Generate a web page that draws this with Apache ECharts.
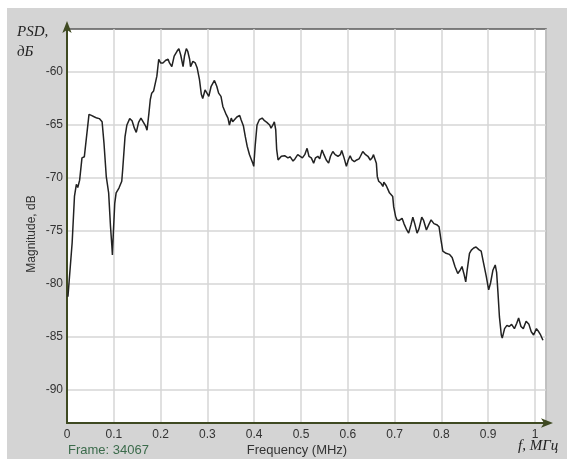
<!DOCTYPE html>
<html>
<head>
<meta charset="utf-8">
<script src="https://cdn.jsdelivr.net/npm/echarts@6/dist/echarts.min.js"></script>
<style>
  html, body { margin: 0; padding: 0; background: #fff; }
  #panel { position: absolute; left: 7px; top: 8px; width: 560px; height: 451px; background: #d4d4d4; }
  #chart { position: absolute; left: 0; top: 0; width: 567px; height: 459px; }
</style>
</head>
<body>
<div id="panel"></div>
<div id="chart"></div>
<script>
// spectrum trace (MHz, dB)
const freq = [
  0.002, 0.011, 0.016, 0.020, 0.023, 0.027, 0.032, 0.037, 0.041, 0.047,
  0.052, 0.059, 0.064, 0.069, 0.075, 0.079, 0.084, 0.089, 0.093, 0.096,
  0.097, 0.099, 0.102, 0.105, 0.111, 0.117, 0.119, 0.124, 0.128, 0.134,
  0.139, 0.144, 0.148, 0.153, 0.158, 0.164, 0.168, 0.171, 0.175, 0.178,
  0.181, 0.185, 0.189, 0.192, 0.196, 0.200, 0.205, 0.211, 0.216, 0.219,
  0.224, 0.229, 0.235, 0.239, 0.243, 0.248, 0.251, 0.255, 0.258, 0.262,
  0.264, 0.269, 0.274, 0.278, 0.283, 0.287, 0.290, 0.295, 0.299, 0.303,
  0.308, 0.315, 0.320, 0.324, 0.329, 0.333, 0.339, 0.344, 0.347, 0.351,
  0.354, 0.357, 0.363, 0.369, 0.372, 0.377, 0.381, 0.385, 0.390, 0.394,
  0.397, 0.399, 0.402, 0.406, 0.411, 0.417, 0.422, 0.427, 0.433, 0.436,
  0.440, 0.443, 0.446, 0.448, 0.451, 0.458, 0.465, 0.472, 0.477, 0.483,
  0.487, 0.493, 0.497, 0.503, 0.508, 0.513, 0.517, 0.522, 0.527, 0.531,
  0.536, 0.540, 0.545, 0.549, 0.554, 0.559, 0.563, 0.568, 0.573, 0.579,
  0.584, 0.587, 0.592, 0.597, 0.601, 0.605, 0.609, 0.614, 0.619, 0.624,
  0.627, 0.632, 0.638, 0.643, 0.648, 0.652, 0.655, 0.657, 0.661, 0.663,
  0.666, 0.671, 0.675, 0.677, 0.682, 0.686, 0.689, 0.693, 0.696, 0.698,
  0.702, 0.705, 0.710, 0.716, 0.720, 0.726, 0.730, 0.735, 0.739, 0.743,
  0.748, 0.752, 0.758, 0.762, 0.768, 0.773, 0.778, 0.784, 0.790, 0.795,
  0.799, 0.803, 0.810, 0.817, 0.823, 0.829, 0.835, 0.840, 0.844, 0.848,
  0.852, 0.855, 0.860, 0.864, 0.869, 0.874, 0.880, 0.885, 0.890, 0.896,
  0.901, 0.905, 0.910, 0.915, 0.918, 0.921, 0.924, 0.928, 0.930, 0.935,
  0.940, 0.945, 0.950, 0.956, 0.961, 0.965, 0.970, 0.975, 0.981, 0.987,
  0.992, 0.997, 1.003, 1.008, 1.012, 1.017
];
const psd = [
  -81.2, -76.1, -71.7, -70.6, -70.9, -70.2, -68.1, -68.0, -66.4, -64.0,
  -64.1, -64.25, -64.35, -64.4, -64.7, -66.7, -69.9, -71.4, -74.6, -76.5,
  -77.25, -75.2, -72.4, -71.4, -70.95, -70.3, -69.2, -66.1, -65.0, -64.4,
  -64.6, -65.3, -65.7, -64.75, -64.35, -64.8, -65.1, -65.5, -63.9, -62.6,
  -62.0, -61.8, -61.85, -60.4, -58.8, -59.15, -59.15, -58.9, -58.8, -59.15,
  -59.5, -58.5, -58.05, -57.8, -58.4, -59.5, -58.5, -57.8, -58.05, -58.8,
  -59.5, -59.0, -59.15, -59.6, -60.7, -62.1, -62.5, -61.7, -61.65, -62.3,
  -61.35, -60.8, -61.35, -62.0, -62.3, -63.25, -63.9, -64.35, -65.0, -64.35,
  -64.7, -64.6, -64.25, -64.1, -64.5, -65.1, -66.1, -67.0, -67.8, -67.95,
  -68.6, -68.9, -67.0, -65.0, -64.5, -64.35, -64.6, -64.75, -65.0, -65.3,
  -65.0, -64.7, -65.45, -67.3, -68.3, -67.95, -67.9, -68.1, -68.0, -68.4,
  -68.2, -67.8, -67.65, -68.1, -67.8, -67.2, -67.95, -68.1, -68.6, -68.1,
  -67.95, -68.2, -67.35, -67.8, -68.3, -68.6, -67.95, -67.5, -67.8, -67.95,
  -67.8, -67.4, -68.1, -68.9, -68.3, -67.9, -68.3, -68.45, -68.3, -68.2,
  -67.95, -67.5, -67.8, -67.95, -68.3, -68.1, -67.8, -68.1, -68.6, -69.85,
  -70.3, -70.5, -70.8, -70.4, -70.7, -71.1, -71.4, -71.3, -71.75, -72.7,
  -73.6, -73.95, -74.0, -73.8, -74.3, -74.9, -75.2, -74.4, -73.7, -74.3,
  -75.2, -74.8, -73.7, -74.0, -74.9, -74.4, -73.95, -74.3, -74.4, -74.6,
  -75.8, -76.9, -77.1, -77.2, -77.5, -78.35, -79.0, -78.7, -78.35, -79.0,
  -79.8, -78.7, -77.1, -76.8, -76.6, -76.5, -76.75, -76.9, -78.0, -79.3,
  -80.55, -79.9, -78.7, -78.2, -78.9, -80.9, -83.1, -84.8, -85.1, -84.2,
  -83.9, -84.0, -83.8, -84.2, -83.7, -83.2, -84.0, -84.2, -83.5, -83.8,
  -84.5, -84.8, -84.2, -84.5, -84.8, -85.3
];
const yTicks = [-90, -85, -80, -75, -70, -65, -60];
const xMin = 0, xMax = 1.0235;
const yMin = -93.1, yMax = -55.95;

const chart = echarts.init(document.getElementById('chart'), null, { renderer: 'canvas' });

const axisColor = '#3f4a22';
const labelFont = 'Liberation Sans, Arial, sans-serif';
const serif = 'Liberation Serif, Times New Roman, serif';

chart.setOption({
  animation: false,
  backgroundColor: 'transparent',
  grid: {
    left: 67, top: 29, width: 479, height: 394,
    show: true, backgroundColor: '#fff', borderColor: '#5a5a5a', borderWidth: 1.5,
    outerBoundsMode: 'none'
  },
  xAxis: {
    type: 'value', min: xMin, max: xMax, interval: 0.1,
    axisLine: { show: true, onZero: false, lineStyle: { color: axisColor, width: 2 },
      symbol: ['none', 'arrow'], symbolSize: [7, 12], symbolOffset: [0, 7] },
    axisTick: { show: false },
    axisLabel: { margin: 6, color: '#333', fontFamily: labelFont, fontSize: 12,
      showMaxLabel: false, formatter: v => String(Math.round(v * 10) / 10) },
    splitLine: { show: true, lineStyle: { color: '#d6d6d6', width: 1.5 } }
  },
  yAxis: {
    type: 'value', min: yMin, max: yMax,
    axisLine: { show: true, onZero: false, lineStyle: { color: axisColor, width: 2 },
      symbol: ['none', 'arrow'], symbolSize: [7, 12], symbolOffset: [0, 8] },
    axisTick: { show: false, customValues: yTicks },
    axisLabel: { margin: 4, color: '#333', fontFamily: labelFont, fontSize: 12, customValues: yTicks },
    splitLine: { show: true, lineStyle: { color: '#d6d6d6', width: 1.5 } }
  },
  graphic: [
    { type: 'text', left: 17, top: 22, style: { text: 'PSD,\nдБ', font: 'italic 15px ' + serif, fill: '#222', lineHeight: 20 } },
    { type: 'text', x: 32, y: 234, rotation: Math.PI / 2,
      style: { text: 'Magnitude, dB', font: '12px ' + labelFont, fill: '#333', align: 'center', verticalAlign: 'middle' } },
    { type: 'text', x: 68, y: 450,
      style: { text: 'Frame: 34067', font: '13px ' + labelFont, fill: '#3b6b4b', verticalAlign: 'middle' } },
    { type: 'text', x: 297, y: 450,
      style: { text: 'Frequency (MHz)', font: '13px ' + labelFont, fill: '#333', align: 'center', verticalAlign: 'middle' } },
    { type: 'text', x: 518, y: 446,
      style: { text: 'f, МГц', font: 'italic 15px ' + serif, fill: '#222', verticalAlign: 'middle' } }
  ],
  series: [{
    type: 'line',
    data: freq.map((f, i) => [f, psd[i]]),
    showSymbol: false,
    lineStyle: { color: '#222', width: 1.5 },
    z: 3
  }]
});
</script>
</body>
</html>
